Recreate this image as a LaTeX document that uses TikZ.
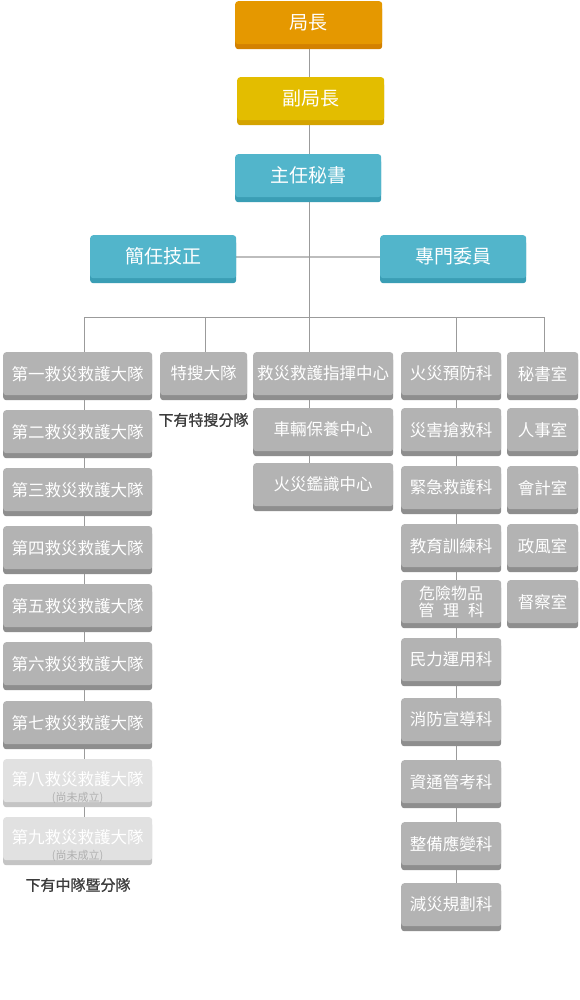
\documentclass[tikz,border=0pt]{standalone}
\usepackage{fontspec}
\newfontfamily\cjk{Noto Sans CJK TC}
\newfontfamily\cjkb[FakeBold=0.9]{Noto Sans CJK TC}
\usetikzlibrary{shadows,backgrounds}
\definecolor{cOr}{HTML}{E59800}
\definecolor{cOrD}{HTML}{D38100}
\definecolor{cYe}{HTML}{E3BD00}
\definecolor{cYeD}{HTML}{D4A300}
\definecolor{cTe}{HTML}{52B5CB}
\definecolor{cTeD}{HTML}{3A9EB5}
\definecolor{cGr}{HTML}{B3B3B3}
\definecolor{cGrD}{HTML}{8E8E8E}
\definecolor{cLt}{HTML}{E1E1E1}
\definecolor{cLtD}{HTML}{C4C4C4}
\definecolor{cLine}{HTML}{9B9B9B}
\definecolor{cHline}{HTML}{BDBDBD}
\definecolor{cNote}{HTML}{3C3C3C}
\definecolor{cSub}{HTML}{B0B0B0}
\tikzset{
  box/.style={rounded corners=3pt, minimum height=43pt, inner sep=0pt, anchor=north west, text=white},
  colbox/.style 2 args={box, fill=#1, general shadow={fill=#2, shadow xshift=0pt, shadow yshift=-5pt}},
  topbox/.style 2 args={colbox={#1}{#2}, font=\cjk\fontsize{19}{22}\selectfont},
  graybox/.style={colbox={cGr}{cGrD}, font=\cjk\fontsize{16.5}{18}\selectfont},
  lightbox/.style={colbox={cLt}{cLtD}, font=\cjk\fontsize{16.5}{18}\selectfont},
  subtext/.style={text=cSub, font=\cjk\fontsize{11}{12}\selectfont, inner sep=0pt},
  note/.style={text=cNote, font=\cjkb\fontsize{15}{17}\selectfont, inner sep=0pt},
  conn/.style={draw=cLine, line width=1pt},
  hconn/.style={draw=cHline, line width=1.6pt},
}
\begin{document}
\begin{tikzpicture}[x=1pt,y=-1pt]
\begin{pgfonlayer}{background}
\fill[white] (0,0) rectangle (580,1000);
\end{pgfonlayer}
\useasboundingbox (0,0) rectangle (580,1000);
% top chain
\node[topbox={cOr}{cOrD}, minimum width=147pt] (ju) at (235,1) {局長};
\node[topbox={cYe}{cYeD}, minimum width=147pt] (fu) at (237,77) {副局長};
\node[topbox={cTe}{cTeD}, minimum width=146pt] (zhu) at (235,154) {主任秘書};
\node[topbox={cTe}{cTeD}, minimum width=146pt] (jian) at (90,235) {簡任技正};
\node[topbox={cTe}{cTeD}, minimum width=146pt] (zhuan) at (380,235) {專門委員};
% column 1
\node[graybox, minimum width=149pt] (c1) at (3,352) {第一救災救護大隊};
\node[graybox, minimum width=149pt] (c2) at (3,410) {第二救災救護大隊};
\node[graybox, minimum width=149pt] (c3) at (3,468) {第三救災救護大隊};
\node[graybox, minimum width=149pt] (c4) at (3,526) {第四救災救護大隊};
\node[graybox, minimum width=149pt] (c5) at (3,584) {第五救災救護大隊};
\node[graybox, minimum width=149pt] (c6) at (3,642) {第六救災救護大隊};
\node[graybox, minimum width=149pt] (c7) at (3,701) {第七救災救護大隊};
\node[lightbox, minimum width=149pt] (c8) at (3,759) {\raisebox{4pt}{第八救災救護大隊}};
\node[lightbox, minimum width=149pt] (c9) at (3,817) {\raisebox{4pt}{第九救災救護大隊}};
\node[subtext] (c8s) at (77.5,797.5) {(尚未成立)};
\node[subtext] (c9s) at (77.5,855.5) {(尚未成立)};
\node[note] (n2) at (78,885) {下有中隊暨分隊};
% special search
\node[graybox, minimum width=87pt] (t1) at (160,352) {特搜大隊};
\node[note] (n1) at (203.5,420) {下有特搜分隊};
% middle column
\node[graybox, minimum width=140pt] (m1) at (253,352) {救災救護指揮中心};
\node[graybox, minimum width=140pt] (m2) at (253,408) {車輛保養中心};
\node[graybox, minimum width=140pt] (m3) at (253,463) {火災鑑識中心};
% sections
\node[graybox, minimum width=100pt] (k1) at (401,352) {火災預防科};
\node[graybox, minimum width=100pt] (k2) at (401,408) {災害搶救科};
\node[graybox, minimum width=100pt] (k3) at (401,466) {緊急救護科};
\node[graybox, minimum width=100pt] (k4) at (401,524) {教育訓練科};
\node[graybox, minimum width=100pt, align=center, font=\cjk\fontsize{16}{17}\selectfont] (k5) at (401,580) {危險物品\\管\hspace{0.55em}理\hspace{0.55em}科};
\node[graybox, minimum width=100pt] (k6) at (401,638) {民力運用科};
\node[graybox, minimum width=100pt] (k7) at (401,698) {消防宣導科};
\node[graybox, minimum width=100pt] (k8) at (401,760) {資通管考科};
\node[graybox, minimum width=100pt] (k9) at (401,822) {整備應變科};
\node[graybox, minimum width=100pt] (k10) at (401,883) {減災規劃科};
% offices
\node[graybox, minimum width=71pt] (s1) at (507,352) {秘書室};
\node[graybox, minimum width=71pt] (s2) at (507,408) {人事室};
\node[graybox, minimum width=71pt] (s3) at (507,466) {會計室};
\node[graybox, minimum width=71pt] (s4) at (507,524) {政風室};
\node[graybox, minimum width=71pt] (s5) at (507,580) {督察室};
% connectors
\coordinate (b1) at (84,317);
\coordinate (b2) at (205,317);
\coordinate (b3) at (309,317);
\coordinate (b4) at (456,317);
\coordinate (b5) at (544,317);
\begin{pgfonlayer}{background}
\draw[hconn] (jian.east) -- (zhuan.west);
\draw[conn] (ju.south -| b3) -- (b3);
\draw[conn] (b1) -- (b5);
\draw[conn] (b1) -- (c9.north -| b1);
\draw[conn] (b2) -- (t1.north -| b2);
\draw[conn] (b3) -- (m3.north -| b3);
\draw[conn] (b4) -- (k10.north -| b4);
\draw[conn] (b5) -- (s1.north -| b5);
\end{pgfonlayer}
\end{tikzpicture}
\end{document}
